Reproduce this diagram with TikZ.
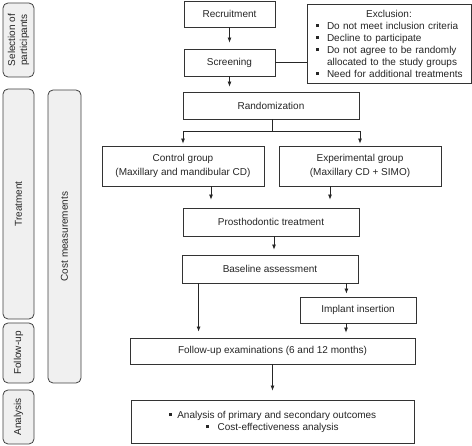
\documentclass[tikz,border=0pt]{standalone}
\usepackage{fontspec}
\setmainfont{Liberation Sans}
\usetikzlibrary{arrows.meta}
\newcommand\xitem[1]{\par\noindent\hangindent=16pt\hangafter=1\makebox[16pt][l]{\hspace{5pt}\rule[2pt]{3pt}{3pt}}#1}
\newcommand\sqb{\rule[2pt]{3pt}{3pt}}
\begin{document}
\begin{tikzpicture}[x=1pt,y=-1pt,
  every node/.style={font=\fontsize{10}{12}\selectfont, text=black!85},
  box/.style={draw=black!80, line width=0.8pt, fill=white, inner sep=2pt, align=center},
  sidebox/.style={draw=black!75, line width=0.8pt, fill=black!6, rounded corners=5pt, rotate=90, inner sep=1pt, align=center},
  arr/.style={draw=black!85, line width=0.8pt, -{Latex[length=5pt,width=4pt]}},
  ln/.style={draw=black!85, line width=0.8pt}]
\useasboundingbox (0,0) rectangle (472,446);
% side boxes
\node[sidebox, minimum width=74pt, minimum height=31pt] (sel) at (18.5,40) {Selection of\\participants};
\node[sidebox, minimum width=230pt, minimum height=31pt] (trt) at (18.5,204) {Treatment};
\node[sidebox, minimum width=60pt, minimum height=31pt] (fol) at (18.5,353) {Follow-up};
\node[sidebox, minimum width=54pt, minimum height=31pt] (ana) at (18.5,417) {Analysis};
\node[sidebox, minimum width=293pt, minimum height=33pt] (cost) at (64.5,236.5) {Cost measurements};
% main boxes
\node[box, minimum width=91pt, minimum height=26pt] (rec) at (229.5,14) {Recruitment};
\node[box, minimum width=91pt, minimum height=27pt] (scr) at (229.5,62.5) {Screening};
\node[box, minimum width=164pt, minimum height=79pt, text width=156pt, align=left, inner sep=4pt] (exc) at (389,43.5)
  {{\centering Exclusion:\par}
   \xitem{Do not meet inclusion criteria}
   \xitem{Decline to participate}
   \xitem{Do not agree to be randomly allocated to the study groups}
   \xitem{Need for additional treatments}};
\node[box, minimum width=176pt, minimum height=27pt] (rnd) at (271,105.5) {Randomization};
\node[box, minimum width=162pt, minimum height=40pt, font=\fontsize{10}{14}\selectfont] (ctl) at (183,166) {Control group\\(Maxillary and mandibular CD)};
\node[box, minimum width=162pt, minimum height=40pt, font=\fontsize{10}{14}\selectfont] (exp) at (360,166) {Experimental group\\(Maxillary CD + SIMO)};
\node[box, minimum width=176pt, minimum height=28pt] (pro) at (271,222) {Prosthodontic treatment};
\node[box, minimum width=176pt, minimum height=28pt] (bas) at (270,269) {Baseline assessment};
\node[box, minimum width=116pt, minimum height=26pt] (imp) at (358,310) {Implant insertion};
\node[box, minimum width=285pt, minimum height=26pt] (fup) at (272.5,351) {Follow-up examinations (6 and 12 months)};
\node[box, minimum width=283pt, minimum height=43pt] (anl) at (272.5,421.5) {\sqb\ \ Analysis of primary and secondary outcomes\\\sqb\ \ \ Cost-effectiveness analysis};
% connectors
\draw[arr, shorten >=6pt] (rec) -- (scr);
\draw[arr, shorten >=5pt] (scr) -- (scr |- rnd.north);
\draw[ln] (scr.east) -- (exc.west |- scr.east);
\coordinate (rs) at ([xshift=1pt,yshift=-12pt]rnd.south);
\draw[ln] ([xshift=1pt]rnd.south) -- (rs);
\draw[arr, shorten >=2pt] (rs) -| (ctl.north);
\draw[arr, shorten >=2pt] (rs) -| (exp.north);
\draw[arr, shorten >=8pt] ([xshift=28pt]ctl.south) -- ([xshift=28pt]ctl.south |- pro.north);
\draw[arr, shorten >=8pt] ([xshift=-30pt]exp.south) -- ([xshift=-30pt]exp.south |- pro.north);
\draw[arr, shorten >=5pt] ([xshift=3pt]pro.south) -- ([xshift=3pt]pro.south |- bas.north);
\draw[arr, shorten >=6pt] ([xshift=17pt]bas.south west) -- ([xshift=17pt]bas.south west |- fup.north);
\draw[arr, shorten >=3pt] ([xshift=-12pt]bas.south east) -- ([xshift=-12pt]bas.south east |- imp.north);
\draw[arr, shorten >=5pt] ([xshift=-12pt]imp.south) -- ([xshift=-12pt]imp.south |- fup.north);
\draw[arr, shorten >=9pt] (fup.south) -- (fup.south |- anl.north);
\end{tikzpicture}
\end{document}
